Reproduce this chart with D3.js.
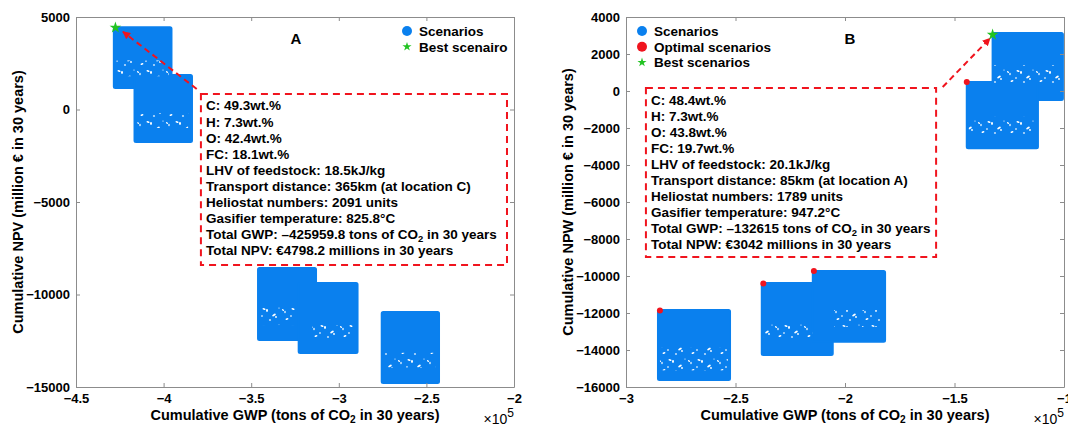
<!DOCTYPE html>
<html>
<head>
<meta charset="utf-8">
<script src="https://cdn.jsdelivr.net/npm/d3@7"></script>
<style>
  body { margin: 0; background: #fff; }
  svg text { font-family: "Liberation Sans", Arial, sans-serif; font-weight: bold; fill: #000; }
  .axis path, .axis line { stroke: #8c8c8c; }
  .axis text { font-size: 13px; font-family: "Liberation Sans", Arial, sans-serif; font-weight: bold; fill: #000; }
</style>
</head>
<body>
<svg id="fig" width="1068" height="429"></svg>
<script>
// ---------- panel A data ----------
var xTicksA = [-450000, -400000, -350000, -300000, -250000, -200000];
var yTicksA = [-15000, -10000, -5000, 0, 5000];
// [gwp left, gwp right, npv top, npv bottom]
var clustersA = [
  [-428400, -395500, 4450, 1160],
  [-416600, -383800, 1865, -1757],
  [-346100, -313000, -8568, -12459],
  [-322900, -289300, -9378, -13162],
  [-275500, -242800, -10946, -14784]
];
// sparse (speckled) bands inside the clouds
var sparseA = [
  [-427000, -397000, 2650, 1800],
  [-415000, -386000, -200, -1000],
  [-345000, -325000, -10650, -11650],
  [-315000, -292000, -11650, -12350],
  [-274000, -245000, -13150, -13950]
];
var bestA = [-427500, 4430];
var arrowA = [[-381100, 1108], [-423200, 4205]];
var boxA = [-378700, -204000, 838, -8405];
var linesA = [
  "C: 49.3wt.%",
  "H: 7.3wt.%",
  "O: 42.4wt.%",
  "FC: 18.1wt.%",
  "LHV of feedstock: 18.5kJ/kg",
  "Transport distance: 365km (at location C)",
  "Heliostat numbers: 2091 units",
  "Gasifier temperature: 825.8°C",
  "Total GWP: \u2013425959.8 tons of CO_2 in 30 years",
  "Total NPV: €4798.2 millions in 30 years"
];
var legendA = ["Scenarios", "Best scenairo"];

// ---------- panel B data ----------
var xTicksB = [-300000, -250000, -200000, -150000, -100000];
var yTicksB = [-16000, -14000, -12000, -10000, -8000, -6000, -4000, -2000, 0, 2000, 4000];
var clustersB = [
  [-132600, -100500, 3135, -486],
  [-144400, -111900, 486, -3100],
  [-285400, -252500, -11838, -15622],
  [-238000, -205600, -10378, -14270],
  [-214700, -181700, -9730, -13551]
];
var sparseB = [
  [-132000, -101500, 1400, 300],
  [-143500, -113000, -1400, -2400],
  [-284500, -253500, -13850, -15100],
  [-237000, -215000, -12450, -13350],
  [-205000, -184000, -11850, -12750]
];
var optimalB = [[-144400, 486], [-284500, -11870], [-237300, -10400], [-214200, -9730]];
var bestB = [-132600, 3042];
var arrowB = [[-155400, 216], [-133800, 2849]];
var boxB = [-290900, -158400, 162, -8973];
var linesB = [
  "C: 48.4wt.%",
  "H: 7.3wt.%",
  "O: 43.8wt.%",
  "FC: 19.7wt.%",
  "LHV of feedstock: 20.1kJ/kg",
  "Transport distance: 85km (at location A)",
  "Heliostat numbers: 1789 units",
  "Gasifier temperature: 947.2°C",
  "Total GWP: \u2013132615 tons of CO_2 in 30 years",
  "Total NPW: €3042 millions in 30 years"
];
var legendB = ["Scenarios", "Optimal scenarios", "Best scenarios"];

var BLUE = "#0a80ee", RED = "#f0141e", GREEN = "#22c322";

var svg = d3.select("#fig");
var defs = svg.append("defs");

// white specks for the sparse parts of the clouds (irregular tile)
var pat = defs.append("pattern")
  .attr("id", "speck")
  .attr("patternUnits", "userSpaceOnUse")
  .attr("width", 29).attr("height", 17);
[[3, 3, 1.6, 0.9, 20], [6, 4.5, 1.0, 1.4, 0], [13, 9, 2.0, 1.0, -30], [15, 11, 0.9, 1.1, 0],
 [22, 4, 1.2, 0.8, 40], [24, 6, 0.7, 1.3, 0], [9, 14, 1.1, 0.7, 0], [26, 13, 1.5, 0.9, -20],
 [18, 2, 0.6, 0.6, 0], [1, 10, 0.7, 0.9, 0]]
  .forEach(function (s) {
    pat.append("ellipse").attr("cx", s[0]).attr("cy", s[1])
      .attr("rx", s[2]).attr("ry", s[3])
      .attr("transform", "rotate(" + s[4] + "," + s[0] + "," + s[1] + ")")
      .attr("fill", "#fff");
  });

defs.append("marker")
  .attr("id", "head")
  .attr("viewBox", "0 0 10 10")
  .attr("refX", 9).attr("refY", 5)
  .attr("markerWidth", 4).attr("markerHeight", 4)
  .attr("orient", "auto")
  .append("path")
  .attr("d", "M0,0 L10,5 L0,10 z")
  .attr("fill", RED);

// writes a string into a text element, turning "_2" into a subscript
function richText(sel, str) {
  var parts = str.split("_2");
  sel.append("tspan").text(parts[0]);
  if (parts.length > 1) {
    sel.append("tspan").attr("font-size", "0.7em").attr("dy", 3).text("2");
    sel.append("tspan").attr("dy", -3).text(parts[1]);
  }
}

function drawPanel(p) {
  var x = d3.scaleLinear().domain(p.xDomain).range([p.left, p.right]);
  var y = d3.scaleLinear().domain(p.yDomain).range([387, 17]);
  var g = svg.append("g");

  // clouds
  var cl = g.append("g");
  cl.selectAll("rect.cloud")
    .data(p.clusters)
    .enter().append("rect")
    .attr("class", "cloud")
    .attr("x", function (d) { return x(d[0]); })
    .attr("y", function (d) { return y(d[2]); })
    .attr("width", function (d) { return x(d[1]) - x(d[0]); })
    .attr("height", function (d) { return y(d[3]) - y(d[2]); })
    .attr("fill", BLUE)
    .attr("stroke", BLUE)
    .attr("stroke-width", 2)
    .attr("rx", 1.5);
  cl.selectAll("rect.sparse")
    .data(p.sparse)
    .enter().append("rect")
    .attr("class", "sparse")
    .attr("x", function (d) { return x(d[0]); })
    .attr("y", function (d) { return y(d[2]); })
    .attr("width", function (d) { return x(d[1]) - x(d[0]); })
    .attr("height", function (d) { return y(d[3]) - y(d[2]); })
    .attr("fill", "url(#speck)");

  if (p.optimal) {
    g.selectAll("circle.opt")
      .data(p.optimal)
      .enter().append("circle")
      .attr("class", "opt")
      .attr("cx", function (d) { return x(d[0]); })
      .attr("cy", function (d) { return y(d[1]); })
      .attr("r", 3)
      .attr("fill", RED);
  }

  // axes, MATLAB-like box with inward ticks
  var fmtX = function (d) { return d3.format("")(d / 1e5); };
  g.append("g").attr("class", "axis")
    .attr("transform", "translate(0,387)")
    .call(d3.axisBottom(x).tickValues(p.xTicks).tickFormat(fmtX)
      .tickSizeInner(-4).tickSizeOuter(0).tickPadding(7));
  g.append("g").attr("class", "axis")
    .attr("transform", "translate(0,17)")
    .call(d3.axisTop(x).tickValues(p.xTicks).tickFormat("")
      .tickSizeInner(-4).tickSizeOuter(0));
  g.append("g").attr("class", "axis")
    .attr("transform", "translate(" + p.left + ",0)")
    .call(d3.axisLeft(y).tickValues(p.yTicks).tickFormat(d3.format(""))
      .tickSizeInner(-4).tickSizeOuter(0).tickPadding(6));
  g.append("g").attr("class", "axis")
    .attr("transform", "translate(" + p.right + ",0)")
    .call(d3.axisRight(y).tickValues(p.yTicks).tickFormat("")
      .tickSizeInner(-4).tickSizeOuter(0));

  // x10^5
  var ex = g.append("text")
    .attr("x", p.right).attr("y", 424)
    .attr("text-anchor", "end")
    .attr("font-size", 14).style("font-weight", "normal");
  ex.append("tspan").text("\u00d710");
  ex.append("tspan").attr("dy", -7).attr("font-size", 12).text("5");

  // axis titles
  var xl = g.append("text")
    .attr("x", (p.left + p.right) / 2).attr("y", 420)
    .attr("text-anchor", "middle").attr("font-size", 14.5);
  richText(xl, "Cumulative GWP (tons of CO_2 in 30 years)");
  g.append("text")
    .attr("transform", "translate(" + p.ylabelX + ",202) rotate(-90)")
    .attr("text-anchor", "middle").attr("font-size", 14.5)
    .text(p.ylabel);

  // panel letter
  g.append("text")
    .attr("x", p.letterX).attr("y", 44)
    .attr("text-anchor", "middle").attr("font-size", 15)
    .text(p.letter);

  // annotation box
  g.append("rect")
    .attr("x", x(p.box[0])).attr("y", y(p.box[2]))
    .attr("width", x(p.box[1]) - x(p.box[0]))
    .attr("height", y(p.box[3]) - y(p.box[2]))
    .attr("fill", "none").attr("stroke", RED)
    .attr("stroke-width", 2).attr("stroke-dasharray", "7,5");
  var tx = g.append("g")
    .attr("transform", "translate(" + (x(p.box[0]) + 5) + "," + (y(p.box[2]) + 16.5) + ")");
  tx.selectAll("text")
    .data(p.lines)
    .enter().append("text")
    .attr("y", function (d, i) { return i * 16.1; })
    .attr("font-size", 13.5)
    .each(function (d) { richText(d3.select(this), d); });

  // arrow to best scenario
  g.append("line")
    .attr("x1", x(p.arrow[0][0])).attr("y1", y(p.arrow[0][1]))
    .attr("x2", x(p.arrow[1][0])).attr("y2", y(p.arrow[1][1]))
    .attr("stroke", RED).attr("stroke-width", 2)
    .attr("stroke-dasharray", "6,4")
    .attr("marker-end", "url(#head)");

  g.append("path")
    .attr("transform", "translate(" + x(p.best[0]) + "," + y(p.best[1]) + ")")
    .attr("d", d3.symbol(d3.symbolStar, 42)())
    .attr("fill", GREEN);

  // legend
  var lg = g.append("g").attr("transform", "translate(" + p.legendX + ",31)");
  var items = lg.selectAll("g")
    .data(p.legend)
    .enter().append("g")
    .attr("transform", function (d, i) { return "translate(0," + i * 15.7 + ")"; });
  items.each(function (d, i) {
    var it = d3.select(this);
    var kind = p.legendKinds[i];
    if (kind === "star") {
      it.append("path").attr("d", d3.symbol(d3.symbolStar, 26)()).attr("fill", GREEN);
    } else {
      it.append("circle").attr("r", 5).attr("fill", kind === "red" ? RED : BLUE);
    }
    it.append("text").attr("x", 12).attr("y", 5).attr("font-size", 13.5).text(d);
  });
}

drawPanel({
  xDomain: [-450000, -200000], yDomain: [-15000, 5000],
  left: 76, right: 514,
  xTicks: xTicksA, yTicks: yTicksA,
  clusters: clustersA, sparse: sparseA,
  best: bestA, arrow: arrowA, box: boxA, lines: linesA,
  legend: legendA, legendKinds: ["blue", "star"], legendX: 407,
  letter: "A", letterX: 296,
  ylabel: "Cumulative NPV (million € in 30 years)", ylabelX: 23
});

drawPanel({
  xDomain: [-300000, -100000], yDomain: [-16000, 4000],
  left: 626, right: 1064,
  xTicks: xTicksB, yTicks: yTicksB,
  clusters: clustersB, sparse: sparseB, optimal: optimalB,
  best: bestB, arrow: arrowB, box: boxB, lines: linesB,
  legend: legendB, legendKinds: ["blue", "red", "star"], legendX: 642,
  letter: "B", letterX: 850,
  ylabel: "Cumulative NPW (million € in 30 years)", ylabelX: 573
});
</script>
</body>
</html>
